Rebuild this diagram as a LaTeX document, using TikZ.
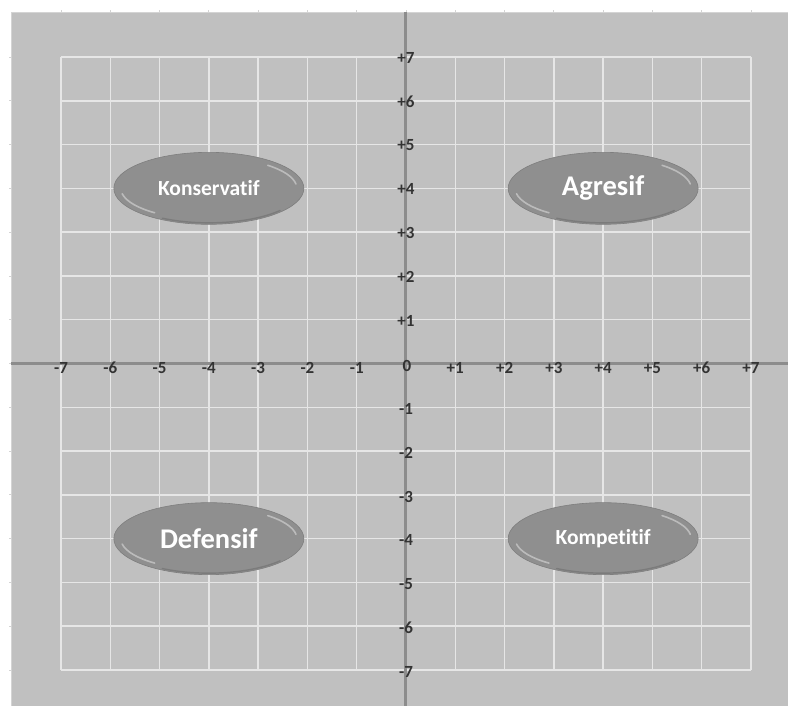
\documentclass[tikz,border=0pt]{standalone}
\usepackage{fontspec}
\setmainfont{Carlito}[RawFeature={-liga;-calt}]
\usetikzlibrary{shapes.geometric}
\definecolor{bg}{HTML}{C0C0C0}
\definecolor{edgec}{HTML}{D4D4D4}
\definecolor{gridc}{HTML}{E6E6E6}
\definecolor{axisc}{HTML}{8C8C8C}
\definecolor{labc}{HTML}{333333}
\definecolor{ellc}{HTML}{8F8F8F}
\begin{document}
\begin{tikzpicture}[x=49.29pt,y=43.79pt,
  ticklab/.style={font=\bfseries\fontsize{17}{17}\selectfont, text=labc, inner sep=0pt},
  oval/.style={ellipse, fill=ellc, draw=ellc!88!black, line width=0.6pt,
    minimum width=190pt, minimum height=72pt, inner sep=0pt, text=white},
  smalltxt/.style={font=\bfseries\fontsize{21.5}{21.5}\selectfont},
  bigtxt/.style={font=\bfseries\fontsize{28.5}{28.5}\selectfont},
  shine/.style={white, line width=1.6pt, line cap=round, opacity=0.4},
  shade/.style={ellc!70!black, line width=1.4pt, line cap=round, opacity=0.45}]
\useasboundingbox (-8.237,-7.821) rectangle (7.750,8.301);
% background panel
\fill[bg] (-8.014,-7.821) rectangle (7.750,8.027);
\draw[edgec, line width=0.8pt] (-8.014,-7.821) -- (-8.014,8.027) -- (7.75,8.027);
\foreach \i in {-7,...,7} {
  \draw[edgec, line width=0.8pt] (\i,8.027) -- (\i,8.075);
  \draw[edgec, line width=0.8pt] (-8.014,\i) -- (-8.060,\i);
}
% grid
\draw[gridc, line width=1.5pt, step={(1,1)}] (-7,-7) grid (7,7);
% axes
\draw[axisc, line width=3pt] (-8.014,0) -- (7.75,0);
\draw[axisc, line width=3pt] (0,-7.821) -- (0,8.027);
% axis labels
\foreach \i in {1,...,7} {
  \node[ticklab] (xp\i) at (\i,-0.105) {+\i};
  \node[ticklab] (xm\i) at (-\i,-0.105) {-\i};
  \node[ticklab] (yp\i) at (0,{\i-0.02}) {+\i};
  \node[ticklab] (ym\i) at (0,{-\i-0.04}) {-\i};
}
\node[ticklab] (zero) at (0.02,-0.06) {0};
% quadrant ovals
\node[oval, smalltxt] (kons) at (-4,4) {Konservatif};
\node[oval, bigtxt]   (agr)  at (4,4)  {Agresif};
\node[oval, bigtxt]   (def)  at (-4,-4) {Defensif};
\node[oval, smalltxt] (komp) at (4,-4) {Kompetitif};
\foreach \n in {kons,agr,def,komp} {
  \begin{scope}[shift={(\n.center)}]
    \draw[shine] (8:88pt and 31pt) arc[start angle=8, end angle=48, x radius=88pt, y radius=31pt];
    \draw[shine] (190:88pt and 31pt) arc[start angle=190, end angle=232, x radius=88pt, y radius=31pt];
    \draw[shade] (240:93pt and 34.5pt) arc[start angle=240, end angle=320, x radius=93pt, y radius=34.5pt];
  \end{scope}
}
\end{tikzpicture}
\end{document}
